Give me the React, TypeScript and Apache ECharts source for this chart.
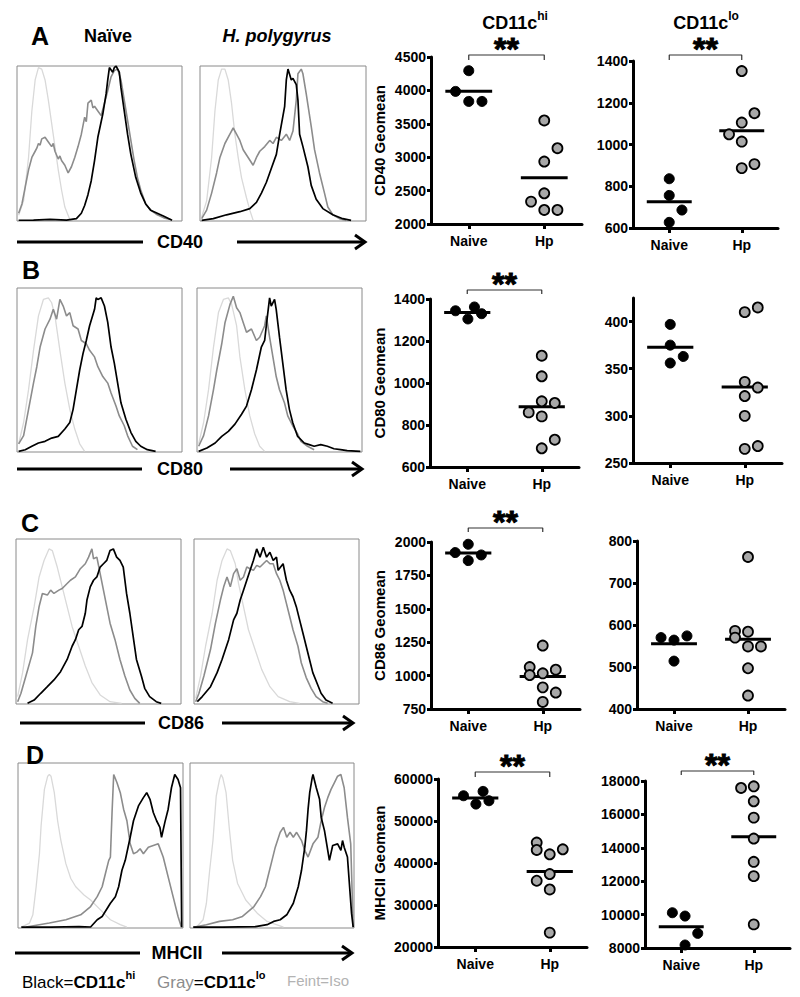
import React, { useEffect, useRef } from "react";
import * as echarts from "echarts";

const FONT = "'Liberation Sans', Arial, Helvetica, sans-serif";

const groups = ["Naive", "Hp"];
const markers = ["CD40", "CD80", "CD86", "MHCII"];
const panelLetters = ["A", "B", "C", "D"];

// ---------- Histogram curves: [intensity (0-100 of axis), % of max] ----------
const cd40NaiveIso = [[1,3.7],[4,13],[7,41],[9,71],[11,91],[13,99],[15,98],[17,91],[19,78],[21,63],[23,48],[25,33],[27,20],[29,9],[32,1]];
const cd40NaiveLo = [[1,5],[3,11],[5,22],[7,33],[9,41],[11,45],[12,47],[13,50],[14,49],[15,53],[17,54],[19,51],[21,48],[22,50],[23,45],[25,40],[26,42],[27,39],[29,36],[31,31],[33,35],[35,41],[37,48],[39,56],[41,67],[42,64],[43,76],[45,78],[46,73],[47,74],[49,71],[51,68],[53,76],[55,84],[57,93],[59,97],[61,98],[63,91],[65,78],[67,65],[69,52],[71,39],[73,28],[75,20],[78,11],[81,7],[85,4],[89,2],[93,1]];
const cd40NaiveHi = [[1,0.5],[10,0.6],[20,1],[30,0.6],[36,1.5],[39,5],[41,10],[43,17],[45,26],[47,39],[49,54],[52,69],[54,82],[55,91],[56,99],[58,96],[59,99],[60,100],[62,96],[63,86],[65,71],[67,56],[69,43],[72,28],[75,18],[78,11],[81,7],[85,5],[89,3],[94,0.5]];
const cd40HpIso = [[1,2.6],[4,13],[7,41],[9,71],[11,91],[13,98],[15,98],[17,91],[19,76],[21,56],[23,41],[25,28],[28,15],[30,7],[32,0.5]];
const cd40HpLo = [[1,1.5],[4,7],[7,18],[10,31],[12,41],[15,50],[18,56],[20,60],[22,56],[24,52],[26,46],[29,41],[32,36],[34,41],[36,45],[39,48],[42,52],[44,50],[46,54],[49,52],[52,56],[54,52],[56,58],[58,78],[59,95],[61,98],[62,95],[64,82],[67,61],[69,46],[72,31],[75,18],[77,9],[80,4],[84,1.5],[88,0.4]];
const cd40HpHi = [[1,0.4],[8,1.5],[16,4],[24,6],[30,8],[34,12],[37,18],[40,25],[43,34],[46,43],[48,56],[51,74],[52,91],[53,98],[55,91],[56,92],[58,88],[59,78],[60,56],[62,48],[65,35],[67,23],[70,14],[74,8],[80,4],[86,1.5],[91,0.4]];

const cd80NaiveIso = [[1,5],[4,18],[7,38],[10,62],[13,83],[16,93],[19,94],[21,91],[23,83],[26,62],[29,42],[32,26],[35,14],[38,5],[41,0.4]];
const cd80NaiveLo = [[1,5],[4,10],[7,26],[10,42],[12,52],[14,64],[17,75],[20,81],[22,87],[24,81],[26,93],[28,89],[30,83],[32,85],[34,77],[37,75],[39,68],[42,66],[44,62],[47,58],[49,52],[52,46],[55,42],[57,36],[60,28],[62,22],[65,16],[67,10],[70,3.5],[73,1.4]];
const cd80NaiveHi = [[1,0.4],[5,1.4],[9,3.5],[13,5.5],[17,6.5],[21,8.5],[25,9.5],[29,14],[32,18],[34,26],[36,38],[38,50],[40,60],[42,68],[44,77],[47,87],[48,94],[49,93],[51,94],[53,89],[55,79],[57,64],[59,54],[61,42],[63,30],[66,20],[69,12],[72,6.5],[75,3.5],[79,1.4],[84,0.4]];
const cd80HpIso = [[1,5],[4,18],[7,38],[10,64],[13,85],[16,93],[19,94],[21,90],[24,77],[26,58],[29,38],[32,22],[35,11],[38,3.5],[41,0.4]];
const cd80HpLo = [[1,3.5],[4,10],[7,22],[10,38],[12,50],[15,66],[17,79],[20,90],[22,95],[24,88],[26,85],[28,79],[30,73],[33,75],[36,68],[38,70],[41,77],[42,83],[44,70],[46,58],[48,46],[50,38],[53,30],[55,22],[58,16],[61,11],[63,6.5],[67,3.5],[71,1.4]];
const cd80HpHi = [[1,0.4],[6,2.4],[11,5.5],[15,9.5],[19,12.6],[23,17],[27,23],[30,28],[33,38],[36,50],[39,64],[41,68],[42,77],[44,94],[45,89],[47,93],[48,87],[50,70],[52,54],[54,38],[56,26],[58,18],[61,9.5],[65,5.5],[68,4.5],[71,3.5],[75,4.5],[79,3.5],[83,2],[87,1.4],[91,0.8],[99,0.4]];

const cd86NaiveIso = [[1,4.5],[4,19],[7,39],[11,59],[14,77],[17,87],[20,94],[22,93],[25,83],[28,71],[31,59],[34,47],[38,35],[42,23],[46,13],[51,5.5],[57,1.4],[64,0.4]];
const cd86NaiveLo = [[1,1.4],[3,6.5],[6,17],[10,31],[12,47],[14,59],[16,67],[19,66],[21,69],[23,67],[26,69],[28,70],[31,73],[33,75],[36,77],[39,82],[42,85],[44,89],[46,94],[47,88],[49,89],[51,79],[53,69],[55,59],[57,49],[60,39],[63,27],[66,17],[69,8.5],[72,3.4],[75,0.4]];
const cd86NaiveHi = [[7,0.4],[11,2.4],[15,6.5],[19,10.5],[23,14.6],[27,19.6],[31,27],[34,35],[36,39],[38,45],[40,47],[42,55],[43,63],[45,71],[47,75],[49,77],[51,83],[53,85],[55,87],[57,93],[59,94],[61,89],[63,87],[65,83],[67,67],[69,55],[71,41],[73,27],[76,17],[78,9.5],[81,4.5],[85,1.4],[88,0.4]];
const cd86HpIso = [[1,3.4],[4,17],[7,35],[11,55],[14,75],[17,87],[20,94],[22,93],[25,85],[27,73],[30,59],[33,45],[37,33],[41,21],[46,10.5],[51,4.5],[58,1.4],[64,0.4]];
const cd86HpLo = [[1,1.4],[3,6.5],[6,17],[10,33],[13,49],[16,63],[18,71],[20,77],[22,71],[24,79],[26,82],[28,75],[30,77],[32,83],[34,82],[36,81],[38,84],[40,83],[42,85],[44,87],[46,85],[48,85],[50,79],[52,75],[54,69],[56,61],[58,53],[60,45],[63,35],[65,25],[68,16],[71,9.5],[74,4.5],[78,1.4],[81,0.4]];
const cd86HpHi = [[2,1.4],[5,4.5],[10,10.5],[14,19],[17,27],[21,39],[24,51],[26,55],[28,63],[30,69],[32,75],[34,81],[36,87],[38,94],[40,89],[42,95],[44,89],[46,92],[48,87],[50,89],[51,81],[54,85],[56,75],[58,69],[60,65],[62,59],[64,51],[66,43],[68,35],[70,27],[72,19],[75,11.5],[77,6.5],[80,2.4],[84,0.4]];

const mhcNaiveIso = [[2,0.5],[7,3],[9,8],[11,25],[13,45],[14,62],[16,84],[18,92],[19,93],[20,92],[22,82],[24,65],[26,53],[29,39],[32,30],[35,25],[40,20],[44,17],[50,11],[56,5],[62,2],[66,0.5]];
const mhcNaiveLo = [[5,0.6],[19,3],[29,5],[38,8],[44,13],[48,19],[51,25],[53,33],[55,41],[56,43],[57,70],[58,93],[60,88],[62,82],[64,72],[66,65],[68,51],[70,45],[72,46],[74,48],[76,45],[79,49],[82,50],[85,51],[88,43],[91,31],[94,19],[97,7],[99,0.6]];
const mhcNaiveHi = [[2,0.5],[20,0.5],[37,0.8],[44,0.6],[48,5],[51,7],[56,15],[59,19],[61,25],[63,35],[65,41],[68,55],[70,65],[73,74],[76,79],[78,82],[80,78],[82,70],[84,65],[86,61],[87,55],[89,64],[91,72],[93,85],[95,93],[97,90],[98.5,85],[99.2,0.5]];
const mhcHpIso = [[4,0.6],[8,5],[10,15],[12,35],[14,53],[16,80],[18,90],[19,93],[20,91],[22,82],[24,60],[26,41],[29,27],[34,17],[41,9],[47,4],[57,0.6]];
const mhcHpLo = [[2,0.5],[10,2],[18,4],[26,5],[32,7],[39,13],[43,19],[46,25],[48,33],[50,41],[52,49],[55,58],[57,61],[59,55],[61,58],[63,55],[65,58],[68,53],[70,47],[72,43],[75,51],[78,55],[80,65],[82,73],[84,79],[86,84],[88,88],[90,92],[92,93],[94,85],[96,67],[98,51],[99.5,0.5]];
const mhcHpHi = [[2,0.5],[20,0.5],[40,0.8],[47,2],[51,4],[55,5],[59,8],[63,15],[66,25],[68,35],[70,49],[71,59],[72,72],[73,82],[74.5,91],[75,93],[77,85],[79,78],[80,67],[82,59],[85,41],[87,50],[90,51],[92,47],[93,53],[94,49],[96,43],[98.5,9],[99.5,0.5]];

// ---------- Geomean values (dot plots) ----------
const cd40HiNaive = [4295, 3985, 3835, 3835];
const cd40HiNaiveSpread = [0, -1, 0, 1];
const cd40HiHp = [3550, 3135, 2935, 2460, 2335, 2210, 2210];
const cd40HiHpSpread = [0, 1, 0, 0, -1, 0, 1];
const cd40LoNaive = [836, 756, 686, 627];
const cd40LoNaiveSpread = [0, 0, 1, 0];
const cd40LoHp = [1352, 1150, 1105, 1049, 1014, 887, 906];
const cd40LoHpSpread = [0, 1, 0, -1, 0, 0, 1];

const cd80HiNaive = [1344, 1362, 1305, 1330];
const cd80HiNaiveSpread = [-0.9, 0.55, 0.05, 1.1];
const cd80HiHp = [1130, 1032, 913, 905, 860, 841, 730, 689];
const cd80HiHpSpread = [0, 0, 0, 1, -1, 0, 1, 0];
const cd80LoNaive = [397, 375, 363, 356];
const cd80LoNaiveSpread = [0, 0, 1, 0];
const cd80LoHp = [410, 415, 336, 330, 321, 300, 265, 268];
const cd80LoHpSpread = [0, 1, 0, 1, 0, 0, 0, 1];

const cd86HiNaive = [1983, 1921, 1903, 1861];
const cd86HiNaiveSpread = [0, -1, 1, 0];
const cd86HiHp = [1225, 1064, 1004, 1017, 1044, 912, 873, 803];
const cd86HiHpSpread = [0, -1, -1, 0, 1, 0, 1, 0];
const cd86LoNaive = [570, 564, 574, 514];
const cd86LoNaiveSpread = [-1, 0, 1, 0];
const cd86LoHp = [762, 586, 584, 570, 549, 549, 497, 432];
const cd86LoHpSpread = [0, -1, 0, -1, 1, 0, 0, 0];

const mhcHiNaive = [56016, 57052, 54024, 54821];
const mhcHiNaiveSpread = [-0.9, 0.6, 0.05, 1.05];
const mhcHiHp = [44861, 43108, 42072, 43267, 37371, 35777, 33706, 23427];
const mhcHiHpSpread = [-1, -1, 0, 1, 0, -1, 0, 0];
const mhcLoNaive = [10112, 9912, 8876, 8179];
const mhcLoNaiveSpread = [-0.7, 0.3, 1.3, 0.3];
const mhcLoHp = [17582, 17681, 16785, 15809, 14554, 13160, 12303, 9414];
const mhcLoHpSpread = [-1, 0, 0, 0, 0, 0, 0, 0];

// y-axis tick values
const cd40HiTicks = [2000, 2500, 3000, 3500, 4000, 4500];
const cd40LoTicks = [600, 800, 1000, 1200, 1400];
const cd80HiTicks = [600, 800, 1000, 1200, 1400];
const cd80LoTicks = [250, 300, 350, 400];
const cd86HiTicks = [750, 1000, 1250, 1500, 1750, 2000];
const cd86LoTicks = [400, 500, 600, 700, 800];
const mhcHiTicks = [20000, 30000, 40000, 50000, 60000];
const mhcLoTicks = [8000, 10000, 12000, 14000, 16000, 18000];

// ---------- layout ----------
const histPanels = [
  { box: [17, 66, 165, 155], iso: cd40NaiveIso, lo: cd40NaiveLo, hi: cd40NaiveHi },
  { box: [200, 66, 166, 155], iso: cd40HpIso, lo: cd40HpLo, hi: cd40HpHi },
  { box: [17, 288, 165, 164], iso: cd80NaiveIso, lo: cd80NaiveLo, hi: cd80NaiveHi },
  { box: [197, 288, 165, 164], iso: cd80HpIso, lo: cd80HpLo, hi: cd80HpHi },
  { box: [16, 539, 165, 165], iso: cd86NaiveIso, lo: cd86NaiveLo, hi: cd86NaiveHi },
  { box: [194, 539, 165, 165], iso: cd86HpIso, lo: cd86HpLo, hi: cd86HpHi },
  { box: [18, 763, 165, 165], iso: mhcNaiveIso, lo: mhcNaiveLo, hi: mhcNaiveHi },
  { box: [190, 763, 164, 165], iso: mhcHpIso, lo: mhcHpLo, hi: mhcHpHi },
];

const scatterPanels = [
  { box: [431, 57, 151, 167], ticks: cd40HiTicks, max: 4500, name: "CD40 Geomean", gap: 44, naive: cd40HiNaive, ns: cd40HiNaiveSpread, hp: cd40HiHp, hs: cd40HiHpSpread, bracket: [2, -3] },
  { box: [633, 61, 145, 167], ticks: cd40LoTicks, max: 1400, name: "", gap: 0, naive: cd40LoNaive, ns: cd40LoNaiveSpread, hp: cd40LoHp, hs: cd40LoHpSpread, bracket: [6, 1] },
  { box: [430, 299, 149, 168], ticks: cd80HiTicks, max: 1400, name: "CD80 Geomean", gap: 43, naive: cd80HiNaive, ns: cd80HiNaiveSpread, hp: cd80HiHp, hs: cd80HiHpSpread, bracket: [9, 5] },
  { box: [633, 298, 149, 165], ticks: cd80LoTicks, max: 425, name: "", gap: 0, naive: cd80LoNaive, ns: cd80LoNaiveSpread, hp: cd80LoHp, hs: cd80LoHpSpread, bracket: null },
  { box: [431, 542, 149, 167], ticks: cd86HiTicks, max: 2000, name: "CD86 Geomean", gap: 44, naive: cd86HiNaive, ns: cd86HiNaiveSpread, hp: cd86HiHp, hs: cd86HiHpSpread, bracket: [14, 10] },
  { box: [637, 541, 148, 168], ticks: cd86LoTicks, max: 800, name: "", gap: 0, naive: cd86LoNaive, ns: cd86LoNaiveSpread, hp: cd86LoHp, hs: cd86LoHpSpread, bracket: null },
  { box: [438, 779, 149, 168], ticks: mhcHiTicks, max: 60000, name: "MHCII Geomean", gap: 51, naive: mhcHiNaive, ns: mhcHiNaiveSpread, hp: mhcHiHp, hs: mhcHiHpSpread, bracket: [7, 2] },
  { box: [645, 781, 145, 167], ticks: mhcLoTicks, max: 18000, name: "", gap: 0, naive: mhcLoNaive, ns: mhcLoNaiveSpread, hp: mhcLoHp, hs: mhcLoHpSpread, bracket: [10, 6] },
];

const arrows = [
  { y: 242, l: [17, 143], r: [237, 365], cx: 180 },
  { y: 469, l: [17, 142], r: [230, 362], cx: 180 },
  { y: 723, l: [20, 145], r: [222, 353], cx: 181 },
  { y: 953, l: [15, 140], r: [222, 352], cx: 177 },
];
const letterPos = [[40, 36], [31, 270], [30, 523], [35, 755]];

const SLOT = 0.175;
const HALF_MEAN = 0.31;

function mean(a: number[]) {
  return a.reduce((s, v) => s + v, 0) / a.length;
}

function buildOption() {
  const grid: any[] = [];
  const xAxis: any[] = [];
  const yAxis: any[] = [];
  const series: any[] = [];
  const graphic: any[] = [];
  let k = 0;

  histPanels.forEach((p) => {
    const [l, t, w, h] = p.box;
    grid.push({ left: l, top: t, width: w, height: h, show: true, borderColor: "#8a8a8a", borderWidth: 1, backgroundColor: "transparent" });
    xAxis.push({ gridIndex: k, type: "value", min: 0, max: 100, show: false });
    yAxis.push({ gridIndex: k, type: "value", min: 0, max: 100, show: false });
    const curves = [
      { d: p.iso, c: "#d9d9d9", w: 1.3, z: 2 },
      { d: p.lo, c: "#8c8c8c", w: 1.6, z: 3 },
      { d: p.hi, c: "#000000", w: 1.7, z: 4 },
    ];
    curves.forEach((c) =>
      series.push({ type: "line", xAxisIndex: k, yAxisIndex: k, data: c.d, symbol: "none", silent: true, z: c.z, lineStyle: { color: c.c, width: c.w } })
    );
    k++;
  });

  scatterPanels.forEach((p) => {
    const [l, t, w, h] = p.box;
    const min = p.ticks[0];
    const max = p.max;
    const interval = p.ticks[1] - p.ticks[0];
    grid.push({ left: l, top: t, width: w, height: h });
    xAxis.push({
      gridIndex: k, type: "value", min: 0.5, max: 2.5,
      axisLine: { show: true, onZero: false, lineStyle: { color: "#000", width: 3 } },
      axisTick: { show: true, customValues: [1, 2], length: 5, lineStyle: { color: "#000", width: 3 } },
      axisLabel: { show: true, customValues: [1, 2], formatter: (v: number) => groups[Math.round(v) - 1], color: "#000", fontFamily: FONT, fontSize: 14, fontWeight: "bold", margin: 10 },
      splitLine: { show: false },
    });
    yAxis.push({
      gridIndex: k, type: "value", min, max, interval,
      name: p.name, nameLocation: "middle", nameGap: p.gap,
      nameTextStyle: { color: "#000", fontFamily: FONT, fontSize: 15, fontWeight: "bold" },
      axisLine: { show: true, onZero: false, lineStyle: { color: "#000", width: 3 } },
      axisTick: { show: true, customValues: p.ticks, length: 4, lineStyle: { color: "#000", width: 3 } },
      axisLabel: { show: true, customValues: p.ticks, formatter: (v: number) => String(Math.round(v)), color: "#000", fontFamily: FONT, fontSize: 14, fontWeight: "bold", margin: 5 },
      splitLine: { show: false },
    });
    const mN = mean(p.naive);
    const mH = mean(p.hp);
    series.push({ type: "line", xAxisIndex: k, yAxisIndex: k, data: [[1 - HALF_MEAN, mN], [1 + HALF_MEAN, mN]], symbol: "none", silent: true, z: 3, lineStyle: { color: "#000", width: 3 } });
    series.push({ type: "line", xAxisIndex: k, yAxisIndex: k, data: [[2 - HALF_MEAN, mH], [2 + HALF_MEAN, mH]], symbol: "none", silent: true, z: 3, lineStyle: { color: "#000", width: 3 } });
    series.push({
      type: "scatter", xAxisIndex: k, yAxisIndex: k, symbolSize: 10, silent: true, z: 4,
      data: p.naive.map((v, i) => [1 + p.ns[i] * SLOT, v]),
      itemStyle: { color: "#000", borderColor: "#000", borderWidth: 1, opacity: 1 },
    });
    series.push({
      type: "scatter", xAxisIndex: k, yAxisIndex: k, symbolSize: 10, silent: true, z: 4,
      data: p.hp.map((v, i) => [2 + p.hs[i] * SLOT, v]),
      itemStyle: { color: "#a8a8a8", borderColor: "#000", borderWidth: 1.8, opacity: 1 },
    });
    if (p.bracket) {
      const unit = (max - min) / h;
      const top = max + p.bracket[0] * unit;
      const end = max + p.bracket[1] * unit;
      series.push({ type: "line", xAxisIndex: k, yAxisIndex: k, clip: false, silent: true, symbol: "none", z: 5, data: [[1, end], [1, top], [2, top], [2, end]], lineStyle: { color: "#333", width: 1.2 } });
      series.push({
        type: "scatter", xAxisIndex: k, yAxisIndex: k, clip: false, silent: true, symbolSize: 0, z: 5,
        data: [[1.5, top]], itemStyle: { color: "#000" },
        label: { show: true, position: "top", distance: -2, formatter: "**", color: "#000", opacity: 1, fontFamily: FONT, fontSize: 32, lineHeight: 16, fontWeight: "bold", textBorderColor: "#000", textBorderWidth: 1 },
      });
    }
    k++;
  });

  const txt = (x: number, y: number, text: string, size: number, extra: any = {}) => ({
    type: "text", x, y, silent: true,
    style: { text, fill: "#000", fontFamily: FONT, fontSize: size, fontWeight: "bold", align: "center", verticalAlign: "middle", ...extra },
  });

  panelLetters.forEach((L, i) => graphic.push(txt(letterPos[i][0], letterPos[i][1], L, 25)));
  graphic.push(txt(108, 36, "Naïve", 18));
  graphic.push(txt(277, 36, "H. polygyrus", 18, { fontStyle: "italic" }));

  const supRich = {
    a: { fontFamily: FONT, fontSize: 18, fontWeight: "bold", fill: "#000", lineHeight: 22, verticalAlign: "bottom" },
    b: { fontFamily: FONT, fontSize: 12, fontWeight: "bold", fill: "#000", lineHeight: 22, verticalAlign: "top" },
  };
  graphic.push({ type: "text", x: 515, y: 21, silent: true, style: { text: "{a|CD11c}{b|hi}", rich: supRich, align: "center", verticalAlign: "middle" } });
  graphic.push({ type: "text", x: 706, y: 21, silent: true, style: { text: "{a|CD11c}{b|lo}", rich: supRich, align: "center", verticalAlign: "middle" } });

  arrows.forEach((a, i) => {
    graphic.push({ type: "line", silent: true, shape: { x1: a.l[0], y1: a.y, x2: a.l[1], y2: a.y }, style: { stroke: "#000", lineWidth: 3 } });
    graphic.push({ type: "line", silent: true, shape: { x1: a.r[0], y1: a.y, x2: a.r[1] - 1, y2: a.y }, style: { stroke: "#000", lineWidth: 3 } });
    graphic.push({ type: "polyline", silent: true, shape: { points: [[a.r[1] - 10, a.y - 7], [a.r[1], a.y], [a.r[1] - 10, a.y + 7]] }, style: { stroke: "#000", lineWidth: 3, fill: null } });
    graphic.push(txt(a.cx, a.y, markers[i], 18));
  });

  const legRich = {
    n: { fontFamily: FONT, fontSize: 17, fill: "#000", lineHeight: 22, verticalAlign: "bottom" },
    g: { fontFamily: FONT, fontSize: 17, fill: "#8c8c8c", lineHeight: 22, verticalAlign: "bottom" },
    b: { fontFamily: FONT, fontSize: 17, fontWeight: "bold", fill: "#000", lineHeight: 22, verticalAlign: "bottom" },
    s: { fontFamily: FONT, fontSize: 11, fontWeight: "bold", fill: "#000", lineHeight: 22, verticalAlign: "top" },
  };
  graphic.push({ type: "text", x: 22, y: 980, silent: true, style: { text: "{n|Black=}{b|CD11c}{s|hi}", rich: legRich, align: "left", verticalAlign: "middle" } });
  graphic.push({ type: "text", x: 157, y: 980, silent: true, style: { text: "{g|Gray}{n|=}{b|CD11c}{s|lo}", rich: legRich, align: "left", verticalAlign: "middle" } });
  graphic.push({ type: "text", x: 287, y: 980, silent: true, style: { text: "Feint=Iso", fill: "#b3b3b3", fontFamily: FONT, fontSize: 15, align: "left", verticalAlign: "middle" } });

  return {
    animation: false,
    backgroundColor: "#ffffff",
    grid, xAxis, yAxis, series, graphic,
  };
}

export default function App() {
  const ref = useRef<HTMLDivElement>(null);
  useEffect(() => {
    if (!ref.current) return;
    const chart = echarts.init(ref.current, undefined, { renderer: "svg" });
    chart.setOption(buildOption() as any);
    return () => chart.dispose();
  }, []);
  return <div ref={ref} style={{ position: "absolute", left: 0, top: 0, width: 800, height: 997 }} />;
}
